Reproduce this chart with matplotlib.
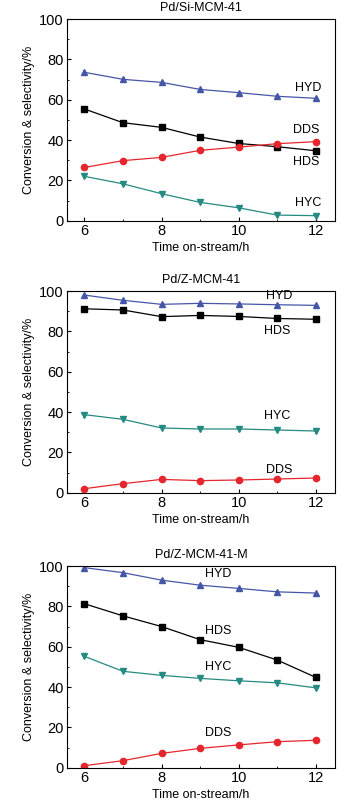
import matplotlib
matplotlib.use('Agg')
import matplotlib.pyplot as plt
from matplotlib.ticker import MultipleLocator

# %% data
hours = [6, 7, 8, 9, 10, 11, 12]
titles = ['Pd/Si-MCM-41', 'Pd/Z-MCM-41', 'Pd/Z-MCM-41-M']

# --+ Pd/Si-MCM-41
hyd_si = [73.6, 70.1, 68.6, 65.1, 63.5, 61.7, 60.7]
hds_si = [55.4, 48.6, 46.3, 41.5, 38.3, 36.7, 34.7]
dds_si = [26.4, 29.8, 31.4, 34.9, 36.5, 38.2, 39.2]
hyc_si = [22.0, 18.3, 13.4, 9.1, 6.4, 2.8, 2.5]

# --+ Pd/Z-MCM-41
hyd_z = [98.0, 95.4, 93.4, 93.9, 93.6, 93.2, 92.9]
hds_z = [91.2, 90.6, 87.3, 87.9, 87.4, 86.4, 86.0]
dds_z = [2.0, 4.5, 6.6, 6.0, 6.3, 6.8, 7.3]
hyc_z = [38.7, 36.4, 32.1, 31.6, 31.6, 31.1, 30.6]

# --+ Pd/Z-MCM-41-M
hyd_zm = [99.2, 96.7, 93.0, 90.5, 88.9, 87.2, 86.6]
hds_zm = [81.3, 75.3, 70.0, 63.5, 59.7, 53.4, 44.8]
dds_zm = [1.0, 3.5, 7.1, 9.6, 11.3, 12.9, 13.6]
hyc_zm = [55.2, 47.8, 45.8, 44.3, 43.1, 42.1, 39.6]

# label anchors (x, y) for each series name
labels_si = {'HYD': (11.8, 66), 'DDS': (11.75, 45), 'HDS': (11.75, 29), 'HYC': (11.8, 9)}
labels_z = {'HYD': (11.05, 97.5), 'HDS': (11.0, 80), 'HYC': (11.0, 38), 'DDS': (11.05, 11.2)}
labels_zm = {'HYD': (9.47, 96), 'HDS': (9.47, 68), 'HYC': (9.47, 50), 'DDS': (9.47, 17)}

panels = [
    (hyd_si, hds_si, dds_si, hyc_si, labels_si),
    (hyd_z, hds_z, dds_z, hyc_z, labels_z),
    (hyd_zm, hds_zm, dds_zm, hyc_zm, labels_zm),
]

# %% styles
plt.rcParams['font.family'] = ['Liberation Sans', 'DejaVu Sans']
styles = {
    'HYD': dict(color='#4656a6', marker='^'),
    'HDS': dict(color='#000000', marker='s'),
    'DDS': dict(color='#e5262c', marker='o'),
    'HYC': dict(color='#248a82', marker='v'),
}

# %% figure
fig = plt.figure(figsize=(3.53, 8.10), dpi=100)
bottoms = [0.7275, 0.3917, 0.0522]

for (hyd, hds, dds, hyc, labs), title, b in zip(panels, titles, bottoms):
    ax = fig.add_axes([0.190, b, 0.759, 0.249])
    series = {'HYD': hyd, 'HDS': hds, 'DDS': dds, 'HYC': hyc}
    for name, vals in series.items():
        st = styles[name]
        ax.plot(hours, vals, color=st['color'], marker=st['marker'],
                markersize=4.5, lw=0.9)
    for name, (tx, ty) in labs.items():
        ax.text(tx, ty, name, fontsize=9, ha='center', va='center')
    # --+ axis properties
    ax.set_xlim(5.55, 12.5)
    ax.set_ylim(0, 100)
    ax.xaxis.set_major_locator(MultipleLocator(2))
    ax.xaxis.set_minor_locator(MultipleLocator(1))
    ax.yaxis.set_major_locator(MultipleLocator(20))
    ax.yaxis.set_minor_locator(MultipleLocator(10))
    ax.tick_params(which='both', direction='in', labelsize=10.5, top=False, right=False)
    ax.tick_params(which='major', length=3, pad=2.5)
    ax.tick_params(which='minor', length=1.5)
    ax.set_xlabel('Time on-stream/h', fontsize=9, labelpad=3)
    ax.set_ylabel('Conversion & selectivity/%', fontsize=9, labelpad=3)
    ax.set_title(title, fontsize=9, pad=6)

plt.savefig('out.png', dpi=100)
